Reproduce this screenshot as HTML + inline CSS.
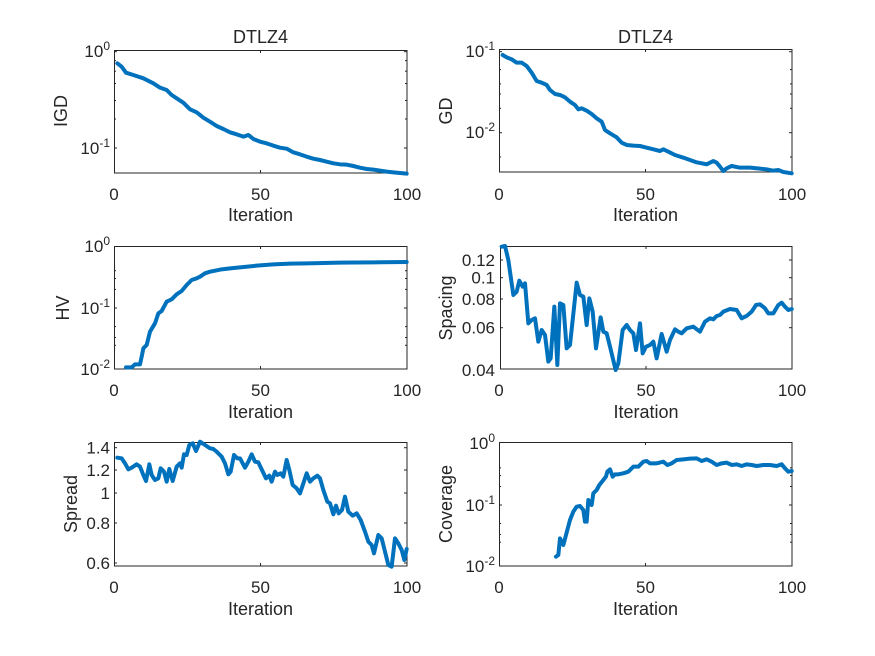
<!DOCTYPE html>
<html><head><meta charset="utf-8"><style>
body{margin:0;background:#fff}
svg{display:block;font-family:"Liberation Sans",sans-serif;fill:#262626}
.b{fill:none;stroke:#262626;stroke-width:1}
.l{fill:none;stroke:#0072BD;stroke-width:12;stroke-linejoin:round;stroke-linecap:round}
.t{font-size:17px}
.lab{font-size:18px}
.tk{stroke:#262626;stroke-width:1}
</style></head><body>
<svg width="875" height="656" viewBox="0 0 875 656">
<rect width="875" height="656" fill="#fff"/>

<!-- Top Left IGD -->
<rect class="b" x="114.5" y="50.5" width="292.5" height="122.5"/>
<g class="tk">
<line x1="114" y1="51.7" x2="117" y2="51.7"/><line x1="404" y1="51.7" x2="407" y2="51.7"/>
<line x1="114" y1="148" x2="117" y2="148"/><line x1="404" y1="148" x2="407" y2="148"/>
<line x1="114" y1="60.6" x2="116" y2="60.6"/><line x1="114" y1="71.2" x2="116" y2="71.2"/><line x1="114" y1="83.5" x2="116" y2="83.5"/><line x1="114" y1="100.5" x2="116" y2="100.5"/><line x1="114" y1="119" x2="116" y2="119"/>
<line x1="405" y1="60.6" x2="407" y2="60.6"/><line x1="405" y1="71.2" x2="407" y2="71.2"/><line x1="405" y1="83.5" x2="407" y2="83.5"/><line x1="405" y1="100.5" x2="407" y2="100.5"/><line x1="405" y1="119" x2="407" y2="119"/>
<line x1="260.5" y1="173" x2="260.5" y2="170"/><line x1="260.5" y1="50" x2="260.5" y2="53"/>
</g>
<text class="t" x="110" y="57" text-anchor="end">10<tspan font-size="12" dy="-7">0</tspan></text>
<text class="t" x="110" y="154" text-anchor="end">10<tspan font-size="12" dy="-7">-1</tspan></text>
<text class="t" x="114" y="200" text-anchor="middle">0</text>
<text class="t" x="260.5" y="200" text-anchor="middle">50</text>
<text class="t" x="407" y="200" text-anchor="middle">100</text>
<text class="lab" x="260.5" y="221" text-anchor="middle">Iteration</text>
<text class="lab" x="260.5" y="43" text-anchor="middle">DTLZ4</text>
<text class="lab" transform="translate(67,111) rotate(-90)" text-anchor="middle">IGD</text>
<g transform="translate(40,20) scale(0.33333)"><polyline class="l" points="232,130 245,140 258,158 280,165 310,175 340,190 360,203 380,210 395,225 410,235 430,248 450,268 470,277 490,293 510,305 530,318 550,327 570,337 590,343 610,350 625,345 640,357 660,365 680,370 700,377 720,383 740,386 760,397 780,403 800,410 820,416 840,420 860,425 880,430 900,433 920,434 940,438 960,443 980,447 1000,449 1020,452 1040,455 1060,457 1080,459 1100,461"/></g>

<!-- Top Right GD -->
<rect class="b" x="499.5" y="49.5" width="292.5" height="122.5"/>
<g class="tk">
<line x1="499" y1="51.7" x2="502" y2="51.7"/><line x1="789" y1="51.7" x2="792" y2="51.7"/>
<line x1="499" y1="132.7" x2="502" y2="132.7"/><line x1="789" y1="132.7" x2="792" y2="132.7"/>
<line x1="499" y1="108.3" x2="501" y2="108.3"/><line x1="499" y1="94" x2="501" y2="94"/><line x1="499" y1="83.9" x2="501" y2="83.9"/><line x1="499" y1="69.6" x2="501" y2="69.6"/>
<line x1="499" y1="157" x2="501" y2="157"/>
<line x1="790" y1="108.3" x2="792" y2="108.3"/><line x1="790" y1="94" x2="792" y2="94"/><line x1="790" y1="83.9" x2="792" y2="83.9"/><line x1="790" y1="69.6" x2="792" y2="69.6"/><line x1="790" y1="157" x2="792" y2="157"/>
<line x1="645.5" y1="172" x2="645.5" y2="169"/><line x1="645.5" y1="49" x2="645.5" y2="52"/>
</g>
<text class="t" x="495" y="57" text-anchor="end">10<tspan font-size="12" dy="-7">-1</tspan></text>
<text class="t" x="495" y="138" text-anchor="end">10<tspan font-size="12" dy="-7">-2</tspan></text>
<text class="t" x="499" y="200" text-anchor="middle">0</text>
<text class="t" x="645.5" y="200" text-anchor="middle">50</text>
<text class="t" x="792" y="200" text-anchor="middle">100</text>
<text class="lab" x="645.5" y="221" text-anchor="middle">Iteration</text>
<text class="lab" x="645.5" y="43" text-anchor="middle">DTLZ4</text>
<text class="lab" transform="translate(452,111) rotate(-90)" text-anchor="middle">GD</text>
<g transform="translate(430,20) scale(0.33333)"><polyline class="l" points="218,105 230,112 245,118 260,128 275,128 290,138 305,158 320,183 335,188 350,195 360,210 375,222 390,225 405,232 420,245 435,255 445,268 455,265 470,272 485,282 500,295 515,305 525,330 540,340 560,352 575,368 590,375 610,377 630,378 650,383 670,388 690,393 700,388 715,395 735,405 760,413 780,420 800,427 830,433 850,423 860,428 870,440 880,453 890,445 905,438 930,443 960,443 990,446 1010,448 1030,452 1045,450 1060,456 1085,460"/></g>

<!-- Middle Left HV -->
<rect class="b" x="114.5" y="246.5" width="292.5" height="122.5"/>
<g class="tk">
<line x1="114" y1="308" x2="117" y2="308"/><line x1="404" y1="308" x2="407" y2="308"/>
<line x1="114" y1="326.6" x2="116" y2="326.6"/><line x1="114" y1="337.5" x2="116" y2="337.5"/><line x1="114" y1="345.3" x2="116" y2="345.3"/><line x1="114" y1="289.4" x2="116" y2="289.4"/><line x1="114" y1="278.5" x2="116" y2="278.5"/><line x1="114" y1="270.7" x2="116" y2="270.7"/>
<line x1="405" y1="326.6" x2="407" y2="326.6"/><line x1="405" y1="337.5" x2="407" y2="337.5"/><line x1="405" y1="345.3" x2="407" y2="345.3"/><line x1="405" y1="289.4" x2="407" y2="289.4"/><line x1="405" y1="278.5" x2="407" y2="278.5"/><line x1="405" y1="270.7" x2="407" y2="270.7"/>
<line x1="260.5" y1="369" x2="260.5" y2="366"/><line x1="260.5" y1="246" x2="260.5" y2="249"/>
</g>
<text class="t" x="110" y="252" text-anchor="end">10<tspan font-size="12" dy="-7">0</tspan></text>
<text class="t" x="110" y="314" text-anchor="end">10<tspan font-size="12" dy="-7">-1</tspan></text>
<text class="t" x="110" y="375" text-anchor="end">10<tspan font-size="12" dy="-7">-2</tspan></text>
<text class="t" x="114" y="396" text-anchor="middle">0</text>
<text class="t" x="260.5" y="396" text-anchor="middle">50</text>
<text class="t" x="407" y="396" text-anchor="middle">100</text>
<text class="lab" x="260.5" y="418" text-anchor="middle">Iteration</text>
<text class="lab" transform="translate(69,308) rotate(-90)" text-anchor="middle">HV</text>
<g transform="translate(40,230) scale(0.33333)"><polyline class="l" points="258,412 275,412 285,403 300,403 305,380 310,355 320,345 330,305 345,280 355,250 365,243 380,215 395,208 410,193 425,183 440,165 455,150 470,145 480,140 495,130 510,125 525,122 545,118 570,115 600,112 650,107 700,103 750,101 800,100 900,98 1000,97 1100,96"/></g>

<!-- Middle Right Spacing -->
<rect class="b" x="500.5" y="246.5" width="291.5" height="122.5"/>
<g class="tk">
<line x1="500" y1="260" x2="503" y2="260"/><line x1="789" y1="260" x2="792" y2="260"/>
<line x1="500" y1="277.7" x2="503" y2="277.7"/><line x1="789" y1="277.7" x2="792" y2="277.7"/>
<line x1="500" y1="299" x2="503" y2="299"/><line x1="789" y1="299" x2="792" y2="299"/>
<line x1="500" y1="327.7" x2="503" y2="327.7"/><line x1="789" y1="327.7" x2="792" y2="327.7"/>
<line x1="646" y1="369" x2="646" y2="366"/><line x1="646" y1="246" x2="646" y2="249"/>
</g>
<text class="t" x="495" y="266" text-anchor="end">0.12</text>
<text class="t" x="495" y="283.5" text-anchor="end">0.1</text>
<text class="t" x="495" y="305" text-anchor="end">0.08</text>
<text class="t" x="495" y="333.5" text-anchor="end">0.06</text>
<text class="t" x="495" y="376" text-anchor="end">0.04</text>
<text class="t" x="499" y="396" text-anchor="middle">0</text>
<text class="t" x="646" y="396" text-anchor="middle">50</text>
<text class="t" x="792" y="396" text-anchor="middle">100</text>
<text class="lab" x="646" y="418" text-anchor="middle">Iteration</text>
<text class="lab" transform="translate(452,308) rotate(-90)" text-anchor="middle">Spacing</text>
<g transform="translate(430,230) scale(0.33333)"><polyline class="l" points="215,50 225,48 235,90 250,195 260,185 268,152 278,170 285,160 295,280 305,270 315,265 325,335 335,300 345,315 355,395 362,385 373,230 382,405 390,220 400,225 410,355 420,345 440,158 450,195 460,200 470,285 478,205 488,245 498,355 512,262 520,305 530,310 540,350 557,420 565,400 578,300 590,285 600,300 605,305 610,310 618,360 630,280 638,370 648,350 660,345 670,335 680,385 695,312 710,365 720,330 735,298 745,305 755,310 770,295 790,290 810,305 825,275 840,265 850,268 860,258 870,255 880,245 900,237 920,240 935,265 950,258 965,245 978,225 990,223 1005,235 1015,250 1030,250 1045,225 1055,218 1065,230 1075,240 1085,237"/></g>

<!-- Bottom Left Spread -->
<rect class="b" x="114.5" y="442.5" width="292.5" height="123.5"/>
<g class="tk">
<line x1="114" y1="447.7" x2="117" y2="447.7"/><line x1="404" y1="447.7" x2="407" y2="447.7"/>
<line x1="114" y1="470" x2="117" y2="470"/><line x1="404" y1="470" x2="407" y2="470"/>
<line x1="114" y1="493" x2="117" y2="493"/><line x1="404" y1="493" x2="407" y2="493"/>
<line x1="114" y1="523" x2="117" y2="523"/><line x1="404" y1="523" x2="407" y2="523"/>
<line x1="114" y1="563" x2="117" y2="563"/><line x1="404" y1="563" x2="407" y2="563"/>
<line x1="260.5" y1="566" x2="260.5" y2="563"/><line x1="260.5" y1="442" x2="260.5" y2="445"/>
</g>
<text class="t" x="110" y="453.5" text-anchor="end">1.4</text>
<text class="t" x="110" y="476" text-anchor="end">1.2</text>
<text class="t" x="110" y="499" text-anchor="end">1</text>
<text class="t" x="110" y="529" text-anchor="end">0.8</text>
<text class="t" x="110" y="569" text-anchor="end">0.6</text>
<text class="t" x="114" y="593" text-anchor="middle">0</text>
<text class="t" x="260.5" y="593" text-anchor="middle">50</text>
<text class="t" x="407" y="593" text-anchor="middle">100</text>
<text class="lab" x="260.5" y="615" text-anchor="middle">Iteration</text>
<text class="lab" transform="translate(77,504) rotate(-90)" text-anchor="middle">Spread</text>
<g transform="translate(40,425) scale(0.33333)"><polyline class="l" points="232,98 245,100 255,115 265,133 275,128 290,118 300,125 310,150 318,168 328,118 335,150 345,165 355,160 362,130 372,140 380,170 388,132 398,168 410,125 420,115 425,128 432,88 440,90 448,60 458,55 468,78 480,50 495,60 510,70 520,72 530,80 545,95 555,115 565,148 572,140 582,90 592,100 600,100 615,128 625,110 635,88 645,110 655,112 665,133 678,160 688,152 695,170 705,140 712,150 722,145 730,155 740,105 748,135 758,180 770,190 780,205 790,175 800,145 810,170 820,160 832,152 840,160 850,195 862,230 870,235 880,268 888,242 896,265 906,255 915,215 925,260 938,272 950,265 962,285 975,320 985,350 995,360 1002,385 1015,330 1025,340 1035,380 1045,420 1055,425 1065,340 1075,355 1085,375 1093,405 1100,372"/></g>

<!-- Bottom Right Coverage -->
<rect class="b" x="499.5" y="442.5" width="292.5" height="123.5"/>
<g class="tk">
<line x1="499" y1="505" x2="502" y2="505"/><line x1="789" y1="505" x2="792" y2="505"/>
<line x1="499" y1="523.5" x2="501" y2="523.5"/><line x1="499" y1="534.4" x2="501" y2="534.4"/><line x1="499" y1="542.2" x2="501" y2="542.2"/><line x1="499" y1="486.5" x2="501" y2="486.5"/><line x1="499" y1="475.6" x2="501" y2="475.6"/><line x1="499" y1="467.8" x2="501" y2="467.8"/>
<line x1="790" y1="523.5" x2="792" y2="523.5"/><line x1="790" y1="534.4" x2="792" y2="534.4"/><line x1="790" y1="542.2" x2="792" y2="542.2"/><line x1="790" y1="486.5" x2="792" y2="486.5"/><line x1="790" y1="475.6" x2="792" y2="475.6"/><line x1="790" y1="467.8" x2="792" y2="467.8"/>
<line x1="645.5" y1="566" x2="645.5" y2="563"/><line x1="645.5" y1="442" x2="645.5" y2="445"/>
</g>
<text class="t" x="495" y="449" text-anchor="end">10<tspan font-size="12" dy="-7">0</tspan></text>
<text class="t" x="495" y="511" text-anchor="end">10<tspan font-size="12" dy="-7">-1</tspan></text>
<text class="t" x="495" y="572" text-anchor="end">10<tspan font-size="12" dy="-7">-2</tspan></text>
<text class="t" x="499" y="593" text-anchor="middle">0</text>
<text class="t" x="645.5" y="593" text-anchor="middle">50</text>
<text class="t" x="792" y="593" text-anchor="middle">100</text>
<text class="lab" x="645.5" y="615" text-anchor="middle">Iteration</text>
<text class="lab" transform="translate(452,504) rotate(-90)" text-anchor="middle">Coverage</text>
<g transform="translate(430,425) scale(0.33333)"><polyline class="l" points="378,395 385,390 390,340 400,360 408,330 420,285 430,260 440,245 450,243 460,255 465,290 470,290 475,225 485,240 490,205 500,195 508,180 520,165 528,155 532,140 540,133 548,155 555,148 565,148 580,145 595,140 610,125 625,125 640,110 650,108 660,115 680,115 700,110 712,120 725,115 740,105 760,103 780,101 800,100 815,108 830,103 845,110 860,120 875,115 890,113 905,120 920,118 935,123 950,118 965,120 980,123 1000,120 1020,120 1040,123 1055,118 1065,130 1075,140 1085,138"/></g>
</svg>
</body></html>
